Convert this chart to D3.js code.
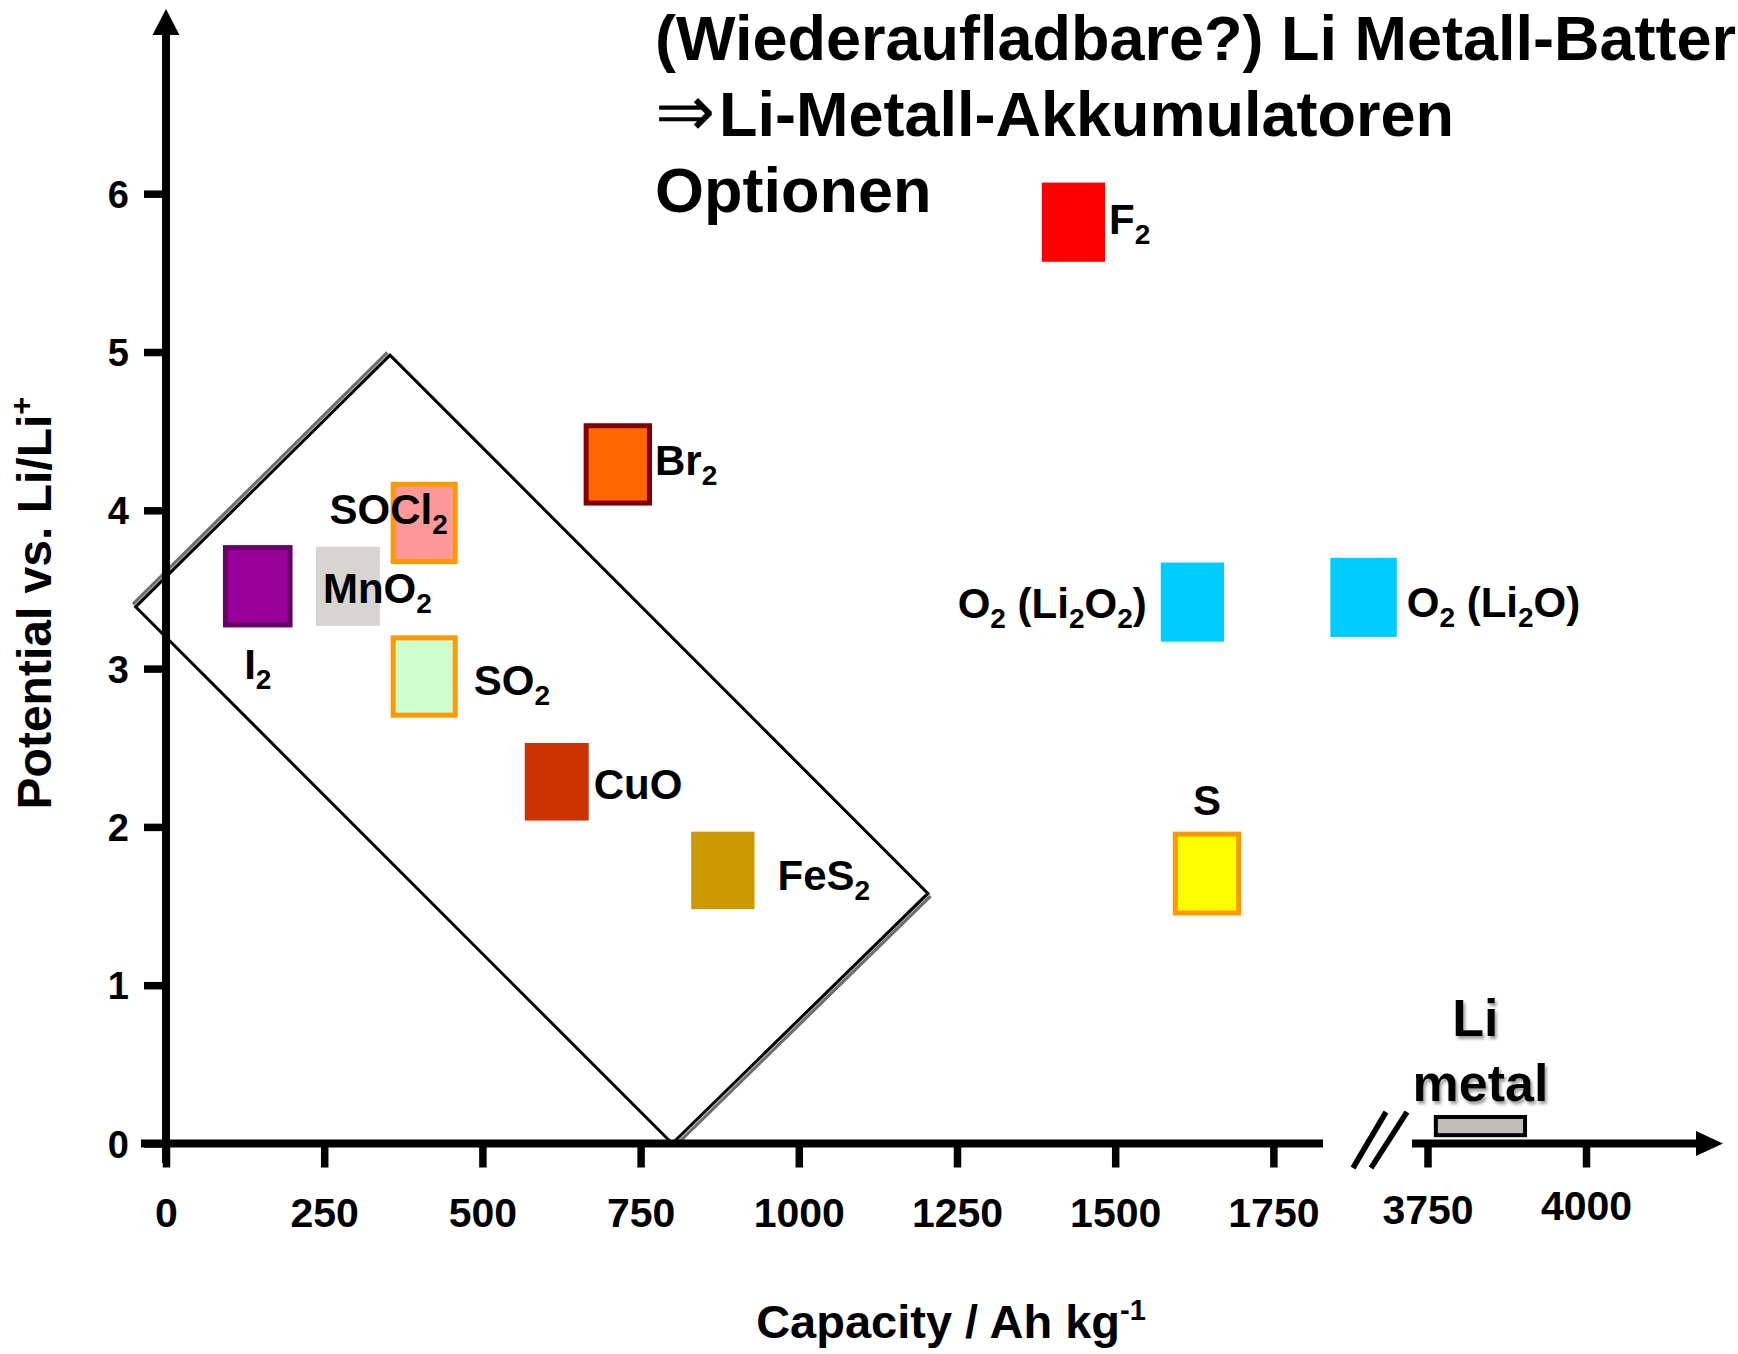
<!DOCTYPE html>
<html><head><meta charset="utf-8">
<script src="https://cdn.jsdelivr.net/npm/d3@7"></script>
<style>
html,body{margin:0;padding:0;background:#fff;overflow:hidden}
svg text{font-family:"Liberation Sans",Arial,Helvetica,sans-serif;font-weight:bold;fill:#000}
</style></head><body>
<svg id="chart" width="1738" height="1354"></svg>
<script>
// ---- data ----
const materials      = ["I_2", "MnO_2", "SOCl_2", "SO_2", "Br_2", "CuO", "FeS_2", "F_2", "O_2 (Li_2O_2)", "O_2 (Li_2O)", "S"];
const capacityMin    = [90, 237, 355, 355, 660, 567, 830, 1384, 1572, 1840, 1591];
const capacityMax    = [200, 338, 461, 461, 768, 668, 930, 1484, 1672, 1945, 1699];
const potentialMin   = [3.26, 3.27, 3.66, 2.69, 4.03, 2.04, 1.48, 5.57, 3.17, 3.20, 1.44];
const potentialMax   = [3.78, 3.77, 4.18, 3.21, 4.55, 2.53, 1.97, 6.07, 3.67, 3.70, 1.97];
const liMetalLabel   = ["Li", "metal"];
const liCapacity     = [3760, 3907];
const liPotential    = [0.04, 0.18];
const regionCapacity = [-48, 354, 1204, 800];
const regionPotential= [3.39, 4.98, 1.58, 0];
const xTicksLeft     = [0, 250, 500, 750, 1000, 1250, 1500, 1750];
const xTicksRight    = [3750, 4000];
const yTicks         = [0, 1, 2, 3, 4, 5, 6];
const titleLines     = ["(Wiederaufladbare?) Li Metall-Batterien", "Li-Metall-Akkumulatoren", "Optionen"];
const titleArrow     = "\u21D2";
const xTitle         = "Capacity / Ah kg";
const xTitleSup      = "-1";
const yTitle         = "Potential vs. Li/Li";
const yTitleSup      = "+";

// ---- styles / layout ----
const fills   = ["#990099", "#d8d4d1", "#ff9999", "#ccffcc", "#ff6600", "#cc3300", "#cc9900", "#ff0000", "#00ccff", "#00ccff", "#ffff00"];
const strokes = ["#660066", null, "#ff9900", "#ff9900", "#800000", null, null, null, null, null, "#ff9900"];
const strokeW = 5;
// label placement: anchor, horizontal reference, dx, vertical reference, dy
const labelLayout = [
  ["middle", "center", 0, "bottom", 52],
  ["start", "left", 7, "center", 17],
  ["end", "right", -10, "center", 1],
  ["start", "right", 16, "center", 18],
  ["start", "right", 3, "center", 11],
  ["start", "right", 5, "center", 17],
  ["start", "right", 23, "center", 20],
  ["start", "right", 4, "center", 12],
  ["end", "left", -14, "center", 16],
  ["start", "right", 10, "center", 20],
  ["middle", "center", 0, "top", -17]
];

const svg = d3.select("#chart");
const defs = svg.append("defs");
const f = defs.append("filter").attr("id", "shadow").attr("x", "-20%").attr("y", "-20%").attr("width", "150%").attr("height", "150%");
f.append("feDropShadow").attr("dx", 2).attr("dy", 3).attr("stdDeviation", 1.8).attr("flood-color", "#777").attr("flood-opacity", 0.7);

const x  = d3.scaleLinear().domain([0, 1750]).range([166, 1273.4]);
const x2 = d3.scaleLinear().domain([3750, 4000]).range([1427.5, 1586]);
const y  = d3.scaleLinear().domain([0, 6]).range([1143.5, 193.7]);

// ---- title ----
const tg = svg.append("g");
titleLines.forEach((line, i) => {
  const t = tg.append("text").attr("x", 655).attr("y", 60 + i * 76).style("font-size", "63px");
  if (i === 1) {
    t.append("tspan").style("font-size", "72px").style("font-weight", "normal").text(titleArrow);
    t.append("tspan").attr("dx", 4).text(line);
  } else {
    t.text(line);
  }
});

// ---- region (rotated rectangle) ----
const pts = regionCapacity.map((c, i) => [x(c), y(regionPotential[i])]);
const shadowEdges = [[0, 1, -1], [2, 3, 1]];
shadowEdges.forEach(([a, b, s]) => {
  const off = 2.4 * s;
  svg.append("line")
    .attr("x1", pts[a][0] + off).attr("y1", pts[a][1] + off)
    .attr("x2", pts[b][0] + off).attr("y2", pts[b][1] + off)
    .attr("stroke", "#6e6e6e").attr("stroke-width", 4);
  svg.append("line")
    .attr("x1", pts[a][0] + off * 0.5).attr("y1", pts[a][1] + off * 0.5)
    .attr("x2", pts[b][0] + off * 0.5).attr("y2", pts[b][1] + off * 0.5)
    .attr("stroke", "#d0d0d0").attr("stroke-width", 1.2);
});
svg.append("path")
  .attr("d", d3.line()(pts) + "Z")
  .attr("fill", "none").attr("stroke", "#000").attr("stroke-width", 3)
  .attr("stroke-linejoin", "miter");

// ---- axes ----
const axisColor = "#000";
svg.append("line").attr("x1", x(0)).attr("x2", x(0)).attr("y1", 1163).attr("y2", 34)
  .attr("stroke", axisColor).attr("stroke-width", 8);
svg.append("path").attr("d", `M${x(0)},9 L${x(0) - 13.5},35 L${x(0) + 13.5},35 Z`).attr("fill", axisColor);
svg.append("line").attr("x1", 141).attr("x2", 1323).attr("y1", y(0)).attr("y2", y(0))
  .attr("stroke", axisColor).attr("stroke-width", 8);
svg.append("line").attr("x1", 1412).attr("x2", 1698).attr("y1", y(0)).attr("y2", y(0))
  .attr("stroke", axisColor).attr("stroke-width", 8);
svg.append("path").attr("d", `M1723,${y(0)} L1696,${y(0) - 12.5} L1696,${y(0) + 12.5} Z`).attr("fill", axisColor);
[[1353, 1168, 1386, 1112], [1371, 1168, 1407, 1112]].forEach(([a, b, c, d]) => {
  svg.append("line").attr("x1", a).attr("y1", b).attr("x2", c).attr("y2", d)
    .attr("stroke", axisColor).attr("stroke-width", 5.5);
});

function styleAxis(g, fs) {
  g.attr("font-family", null).attr("font-size", null);
  g.select(".domain").remove();
  g.selectAll(".tick line").attr("stroke", axisColor).attr("stroke-width", 7.5);
  g.selectAll(".tick text").style("font-size", fs + "px").attr("fill", "#000");
}
const gxL = svg.append("g").attr("transform", `translate(0,${y(0)})`)
  .call(d3.axisBottom(x).tickValues(xTicksLeft).tickSize(24).tickFormat(d3.format("d")));
styleAxis(gxL, 41);
gxL.selectAll(".tick text").attr("y", 83).attr("dy", 0);
const gxR = svg.append("g").attr("transform", `translate(0,${y(0)})`)
  .call(d3.axisBottom(x2).tickValues(xTicksRight).tickSize(24).tickFormat(d3.format("d")));
styleAxis(gxR, 41);
gxR.selectAll(".tick text").attr("y", d => d === 4000 ? 76 : 80).attr("dy", 0);
const gy = svg.append("g").attr("transform", `translate(${x(0)},0)`)
  .call(d3.axisLeft(y).tickValues(yTicks).tickSize(22).tickPadding(15).tickFormat(d3.format("d")));
styleAxis(gy, 38);
gy.selectAll(".tick text").attr("dy", "0.36em");

// ---- axis titles ----
const xt = svg.append("text").attr("x", 951).attr("y", 1338).attr("text-anchor", "middle").style("font-size", "47px");
xt.append("tspan").text(xTitle);
xt.append("tspan").attr("dy", -18).style("font-size", "29px").text(xTitleSup);
const yt = svg.append("text").attr("transform", "translate(51,603) rotate(-90)").attr("text-anchor", "middle").style("font-size", "48px");
yt.append("tspan").text(yTitle);
yt.append("tspan").attr("dy", -19).style("font-size", "31px").text(yTitleSup);

// ---- boxes ----
const idx = d3.range(materials.length);
svg.append("g").selectAll("rect").data(idx).join("rect")
  .attr("x", i => x(capacityMin[i]) + (strokes[i] ? strokeW / 2 : 0))
  .attr("y", i => y(potentialMax[i]) + (strokes[i] ? strokeW / 2 : 0))
  .attr("width", i => x(capacityMax[i]) - x(capacityMin[i]) - (strokes[i] ? strokeW : 0))
  .attr("height", i => y(potentialMin[i]) - y(potentialMax[i]) - (strokes[i] ? strokeW : 0))
  .attr("fill", i => fills[i])
  .attr("stroke", i => strokes[i] || "none")
  .attr("stroke-width", strokeW);

// ---- labels ----
function addRichText(sel, str, size, subSize, shift) {
  const parts = str.split(/_(\d)/);
  let pending = 0;
  parts.forEach((p, k) => {
    if (p === "") return;
    const isSub = k % 2 === 1;
    const t = sel.append("tspan").text(p).style("font-size", (isSub ? subSize : size) + "px");
    if (isSub) { t.attr("dy", shift); pending = -shift; }
    else if (pending) { t.attr("dy", pending); pending = 0; }
  });
}
idx.forEach(i => {
  const [anchor, hr, dx, vr, dy] = labelLayout[i];
  const x0 = x(capacityMin[i]), x1 = x(capacityMax[i]);
  const yTop = y(potentialMax[i]), yBot = y(potentialMin[i]);
  const hx = hr === "left" ? x0 : hr === "right" ? x1 : (x0 + x1) / 2;
  const vy = vr === "top" ? yTop : vr === "bottom" ? yBot : (yTop + yBot) / 2;
  const t = svg.append("text").attr("x", hx + dx).attr("y", vy + dy).attr("text-anchor", anchor);
  addRichText(t, materials[i], 42, 28, 10);
});

// ---- Li metal ----
svg.append("rect")
  .attr("x", x2(liCapacity[0]) + 2).attr("y", y(liPotential[1]) + 2)
  .attr("width", x2(liCapacity[1]) - x2(liCapacity[0]) - 4)
  .attr("height", y(liPotential[0]) - y(liPotential[1]) - 4)
  .attr("fill", "#c0bdb8").attr("stroke", "#000").attr("stroke-width", 4);
const liCx = (x2(liCapacity[0]) + x2(liCapacity[1])) / 2;
svg.append("g").attr("filter", "url(#shadow)").selectAll("text").data(liMetalLabel).join("text")
  .attr("x", (d, i) => liCx + (i === 0 ? -5 : 0))
  .attr("y", (d, i) => y(liPotential[1]) + (i === 0 ? -79 : -14))
  .attr("text-anchor", "middle").style("font-size", "52px").text(d => d);
</script>
</body></html>
